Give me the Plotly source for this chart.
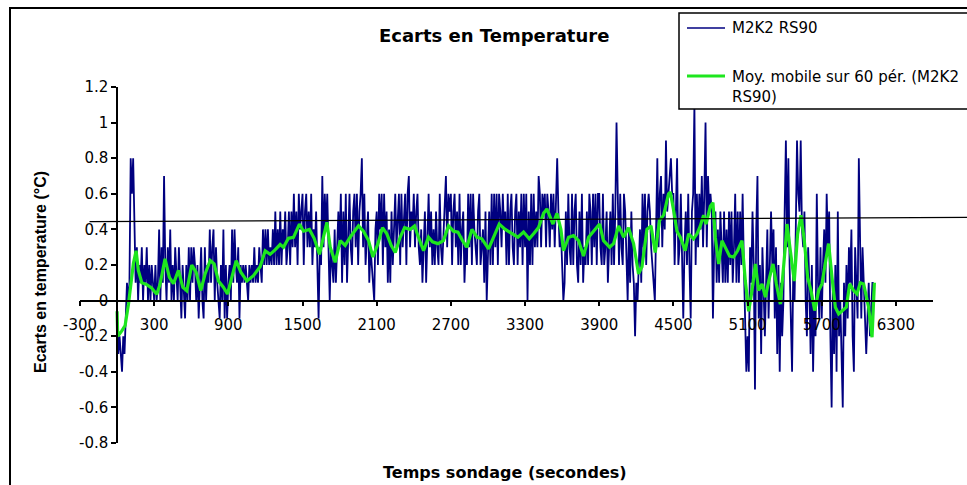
import plotly.graph_objects as go

# ---------------- data ----------------
sample_step_s = 10  # seconds between raw samples of the M2K2 RS90 series

# Raw temperature differences (°C), one value every 10 s from t = 0
temp_ecart = [
    # 0 - 290
    -0.1, -0.3, -0.2, -0.3, -0.4, -0.2, -0.3, -0.1, 0.1, 0.0,
    0.1, 0.8, 0.6, 0.8, 0.4, 0.1, 0.3, 0.0, 0.2, 0.1,
    0.3, 0.0, 0.2, 0.1, 0.3, 0.0, 0.2, 0.0, 0.2, 0.1,
    # 300 - 590
    0.0, 0.2, 0.0, 0.1, 0.4, 0.0, 0.3, 0.1, 0.7, 0.2,
    0.0, 0.3, 0.1, 0.4, 0.0, 0.2, 0.0, 0.3, 0.1, 0.0,
    0.3, 0.1, -0.1, 0.2, 0.0, -0.1, 0.2, 0.0, 0.3, 0.0,
    # 600 - 890
    0.3, 0.1, 0.3, 0.2, 0.0, 0.2, -0.1, 0.1, 0.3, 0.0,
    -0.1, 0.3, 0.0, 0.2, 0.1, 0.4, 0.1, 0.3, 0.4, 0.0,
    0.3, 0.1, 0.0, -0.1, 0.2, 0.0, 0.4, -0.1, 0.2, -0.1,
    # 900 - 1190
    0.1, 0.2, 0.0, 0.4, 0.1, 0.4, 0.2, 0.1, 0.3, -0.1,
    0.2, 0.1, 0.2, 0.1, 0.2, 0.1, 0.0, 0.2, 0.1, 0.2,
    0.1, 0.3, 0.1, 0.2, 0.1, 0.3, 0.2, 0.1, 0.4, 0.2,
    # 1200 - 1490
    0.4, 0.2, 0.4, 0.2, 0.3, 0.2, 0.4, 0.2, 0.5, 0.2,
    0.4, 0.2, 0.5, 0.2, 0.4, 0.3, 0.5, 0.2, 0.3, 0.5,
    0.2, 0.5, 0.3, 0.6, 0.3, 0.5, 0.2, 0.6, 0.4, 0.5,
    # 1500 - 1790
    0.6, 0.2, 0.5, 0.6, 0.3, 0.5, 0.3, 0.6, 0.2, 0.4,
    0.3, 0.5, 0.2, -0.1, 0.3, 0.2, 0.7, 0.3, 0.6, 0.4,
    0.6, 0.3, 0.0, 0.3, 0.2, 0.1, 0.4, 0.1, 0.3, 0.5,
    # 1800 - 2090
    0.3, 0.6, 0.1, 0.5, 0.2, 0.6, 0.1, 0.4, 0.6, 0.3,
    0.2, 0.5, 0.6, 0.3, 0.6, 0.2, 0.5, 0.6, 0.8, 0.3,
    0.6, 0.2, 0.4, 0.5, 0.1, 0.3, 0.2, 0.1, 0.0, 0.4,
    # 2100 - 2390
    0.5, 0.2, 0.6, 0.4, 0.6, 0.2, 0.6, 0.3, 0.5, 0.1,
    0.4, 0.1, 0.5, 0.2, 0.4, 0.6, 0.3, 0.5, 0.6, 0.2,
    0.6, 0.3, 0.5, 0.6, 0.2, 0.6, 0.7, 0.3, 0.5, 0.4,
    # 2400 - 2690
    0.6, 0.3, 0.5, 0.6, 0.3, 0.2, 0.4, 0.1, 0.3, 0.5,
    0.1, 0.4, 0.6, 0.3, 0.5, 0.2, 0.4, 0.2, 0.5, 0.3,
    0.2, 0.6, 0.3, 0.2, 0.4, 0.5, 0.7, 0.3, 0.6, 0.5,
    # 2700 - 2990
    0.6, 0.2, 0.5, 0.6, 0.3, 0.5, 0.2, 0.6, 0.2, 0.4,
    0.5, 0.1, 0.3, 0.2, 0.6, 0.3, 0.6, 0.2, 0.6, 0.4,
    0.3, 0.2, 0.5, 0.6, 0.2, 0.3, 0.4, 0.1, 0.5, 0.0,
    # 3000 - 3290
    0.3, 0.5, 0.2, 0.6, 0.2, 0.6, 0.3, 0.6, 0.2, 0.6,
    0.5, 0.3, 0.6, 0.4, 0.5, 0.2, 0.6, 0.2, 0.5, 0.6,
    0.3, 0.2, 0.5, 0.6, 0.2, 0.5, 0.3, 0.6, 0.2, 0.6,
    # 3300 - 3590
    0.3, 0.6, 0.0, 0.5, 0.2, 0.6, 0.2, 0.6, 0.3, 0.5,
    0.3, 0.7, 0.6, 0.3, 0.6, 0.5, 0.6, 0.3, 0.6, 0.5,
    0.3, 0.6, 0.4, 0.6, 0.3, 0.6, 0.8, 0.5, 0.3, 0.4,
    # 3600 - 3890
    0.2, 0.0, 0.1, 0.5, 0.2, 0.6, 0.3, 0.2, 0.6, 0.2,
    0.5, 0.6, 0.2, 0.1, 0.5, 0.2, 0.6, 0.1, 0.3, 0.2,
    0.5, 0.2, 0.6, 0.5, 0.2, 0.6, 0.3, 0.6, 0.2, 0.6,
    # 3900 - 4190
    0.6, 0.3, 0.2, 0.6, 0.2, 0.3, 0.5, 0.1, 0.3, 0.5,
    0.2, 0.6, 0.2, 0.5, 1.0, 0.6, 0.2, 0.6, 0.3, 0.2,
    0.6, 0.5, 0.2, 0.0, 0.4, 0.1, 0.5, 0.2, 0.1, -0.2,
    # 4200 - 4490
    0.1, 0.0, 0.2, 0.4, 0.1, 0.6, 0.3, 0.6, 0.2, 0.5,
    0.6, 0.5, 0.3, 0.2, 0.1, 0.0, 0.4, 0.8, 0.3, 0.6,
    0.7, 0.3, 0.6, 0.4, 0.9, 0.5, 0.6, 0.7, 0.8, 0.6,
    # 4500 - 4790
    0.6, 0.2, 0.5, 0.8, 0.2, 0.3, 0.6, 0.2, -0.1, 0.3,
    0.5, 0.2, 0.6, 0.2, -0.1, 0.5, 0.6, 1.1, 0.2, 0.6,
    0.3, 0.6, 0.4, 0.7, 0.3, 0.6, 1.0, 0.3, 0.7, 0.5,
    # 4800 - 5090
    0.6, 0.5, -0.1, 0.3, 0.5, 0.1, 0.4, 0.1, 0.5, 0.3,
    0.1, 0.5, 0.1, 0.4, 0.1, 0.5, 0.2, 0.5, 0.1, 0.3,
    0.6, 0.1, 0.5, 0.1, 0.5, 0.2, 0.6, 0.2, -0.1, -0.4,
    # 5100 - 5390
    -0.2, -0.4, 0.3, 0.1, 0.5, 0.2, -0.5, 0.4, 0.7, -0.1,
    0.2, -0.3, 0.3, 0.0, -0.2, 0.1, 0.4, -0.1, 0.3, 0.5,
    0.2, 0.4, -0.1, 0.3, -0.3, 0.2, -0.4, 0.1, -0.2, 0.0,
    # 5400 - 5690
    0.5, 0.9, 0.3, 0.8, 0.2, -0.1, -0.4, 0.2, 0.0, 0.4,
    0.9, 0.6, 0.5, 0.9, 0.4, 0.3, 0.5, 0.0, -0.2, 0.3,
    0.1, -0.3, 0.2, -0.4, 0.0, -0.2, 0.6, 0.1, -0.1, 0.3,
    # 5700 - 5990
    -0.1, 0.2, 0.4, 0.1, 0.6, 0.3, 0.5, -0.2, -0.6, 0.1,
    -0.3, 0.2, -0.4, 0.5, -0.2, 0.0, -0.3, -0.6, 0.1, -0.2,
    0.2, -0.1, 0.3, 0.1, 0.4, -0.2, -0.4, 0.3, 0.1, -0.1,
    # 6000 - 6120
    0.8, 0.2, -0.1, 0.3, 0.1, 0.0, -0.3, -0.1, 0.1, -0.2, 0.0, 0.1, 0.1,
]
temps_s = [sample_step_s * i for i in range(len(temp_ecart))]

# Moving average over 60 periods
moy_t = [0, 5, 38, 65, 92, 111, 132, 154, 172, 200, 240, 281, 321, 347, 388,
         423, 456, 496, 532, 564, 604, 639, 677, 712, 753, 785, 820, 860, 893,
         928, 963, 1001, 1050, 1103, 1157, 1198, 1238, 1278, 1319, 1346, 1386,
         1427, 1475, 1508, 1556, 1594, 1637, 1669, 1697, 1724, 1764, 1805, 1845,
         1885, 1953, 1993, 2034, 2069, 2110, 2147, 2182, 2217, 2250, 2290, 2325,
         2371, 2406, 2438, 2479, 2519, 2551, 2595, 2640, 2681, 2721, 2757, 2794,
         2830, 2870, 2911, 2951, 3005, 3045, 3091, 3140, 3194, 3242, 3288, 3334,
         3369, 3409, 3450, 3477, 3526, 3558, 3590, 3611, 3652, 3692, 3733, 3773,
         3814, 3854, 3903, 3935, 3984, 4016, 4057, 4097, 4137, 4178, 4218, 4246,
         4286, 4319, 4353, 4388, 4421, 4461, 4475, 4502, 4529, 4556, 4596, 4623,
         4663, 4691, 4718, 4744, 4764, 4799, 4820, 4839, 4866, 4893, 4920, 4955,
         4987, 5019, 5055, 5082, 5109, 5136, 5163, 5190, 5217, 5244, 5278, 5306,
         5333, 5365, 5405, 5419, 5446, 5478, 5505, 5532, 5559, 5586, 5613, 5643,
         5675, 5702, 5737, 5756, 5783, 5810, 5837, 5864, 5899, 5926, 5958, 5985,
         6012, 6039, 6079, 6107, 6126]
moy_v = [-0.06, -0.2, -0.17, -0.14, -0.02, 0.09, 0.21, 0.28, 0.17, 0.10, 0.09,
         0.07, 0.035, 0.09, 0.235, 0.13, 0.095, 0.17, 0.075, 0.056, 0.20, 0.16,
         0.056, 0.15, 0.225, 0.206, 0.11, 0.075, 0.037, 0.13, 0.225, 0.16, 0.11,
         0.14, 0.19, 0.28, 0.26, 0.285, 0.315, 0.30, 0.35, 0.355, 0.43, 0.39,
         0.40, 0.35, 0.26, 0.355, 0.44, 0.30, 0.215, 0.337, 0.31, 0.356, 0.42,
         0.39, 0.337, 0.245, 0.32, 0.41, 0.375, 0.31, 0.27, 0.356, 0.41, 0.40,
         0.42, 0.356, 0.28, 0.356, 0.33, 0.32, 0.337, 0.42, 0.39, 0.385, 0.337,
         0.30, 0.40, 0.356, 0.347, 0.29, 0.356, 0.43, 0.40, 0.375, 0.356, 0.385,
         0.347, 0.375, 0.41, 0.49, 0.515, 0.43, 0.49, 0.40, 0.28, 0.356, 0.365,
         0.337, 0.25, 0.356, 0.39, 0.43, 0.337, 0.30, 0.32, 0.42, 0.356, 0.41,
         0.32, 0.15, 0.19, 0.40, 0.42, 0.27, 0.45, 0.48, 0.60, 0.61, 0.506, 0.39,
         0.356, 0.28, 0.375, 0.347, 0.375, 0.42, 0.48, 0.43, 0.53, 0.55, 0.356,
         0.206, 0.337, 0.30, 0.25, 0.245, 0.28, 0.337, 0.11, -0.06, 0.056, 0.206,
         0.056, 0.094, 0.019, 0.13, 0.206, 0.094, -0.02, 0.30, 0.43, 0.28, 0.11,
         0.375, 0.48, 0.337, 0.13, 0.056, -0.056, 0.056, 0.094, 0.245, 0.32, 0.13,
         -0.037, -0.075, -0.056, -0.037, 0.094, 0.056, 0.037, 0.10, 0.094, -0.037,
         -0.206, 0.10]

x_tickvals = [-300, 300, 900, 1500, 2100, 2700, 3300, 3900, 4500, 5100, 5700, 6300]
x_ticktext = ["-300", "300", "900", "1500", "2100", "2700", "3300", "3900",
              "4500", "5100", "5700", "6300"]
y_tickvals = [-0.8, -0.6, -0.4, -0.2, 0, 0.2, 0.4, 0.6, 0.8, 1, 1.2]
y_ticktext = ["-0.8", "-0.6", "-0.4", "-0.2", "0", "0.2", "0.4", "0.6", "0.8", "1", "1.2"]
x_range = [-300, 6600]
y_range = [-0.8, 1.2]

series_name = "M2K2 RS90"
ma_name = "Moy. mobile sur 60 pér. (M2K2<br>RS90)"
title_text = "Ecarts en Temperature"
x_title = "Temps sondage (secondes)"
y_title = "Ecarts en temperature (°C)"

# ---------------- figure ----------------
W, H = 967, 485
ML, MR, MT, MB = 80, 34, 87, 42
PW, PH = W - ML - MR, H - MT - MB


def px(xpix):
    return (xpix - ML) / PW


def py(ypix):
    return (H - MB - ypix) / PH


blue = "#000080"
green = "#1ee61e"

fig = go.Figure()
fig.add_trace(go.Scatter(x=temps_s, y=temp_ecart, mode="lines", name=series_name,
                         line=dict(color=blue, width=1.8), showlegend=False))
fig.add_trace(go.Scatter(x=moy_t, y=moy_v, mode="lines", name=ma_name,
                         line=dict(color=green, width=3.2), showlegend=False))

tick_font = dict(family="DejaVu Sans", size=15, color="black")

fig.update_layout(
    width=W, height=H,
    margin=dict(l=ML, r=MR, t=MT, b=MB),
    paper_bgcolor="white", plot_bgcolor="white",
    showlegend=False,
    xaxis=dict(range=x_range, tickmode="array", tickvals=x_tickvals, ticktext=x_ticktext,
               showgrid=False, zeroline=False, showline=True, linecolor="black",
               linewidth=1.5, ticks="outside", ticklen=5, tickwidth=1.5, tickcolor="black",
               anchor="free", position=(0 - y_range[0]) / (y_range[1] - y_range[0]),
               tickfont=tick_font, ticklabelstandoff=6, automargin=False),
    yaxis=dict(range=y_range, tickmode="array", tickvals=y_tickvals, ticktext=y_ticktext,
               showgrid=False, zeroline=False, showline=True, linecolor="black",
               linewidth=1.5, ticks="outside", ticklen=5, tickwidth=1.5, tickcolor="black",
               anchor="free", position=(0 - x_range[0]) / (x_range[1] - x_range[0]),
               tickfont=tick_font, automargin=False),
)

shapes = [
    # chart-area border
    dict(type="rect", xref="paper", yref="paper", x0=px(10), x1=px(1100),
         y0=py(600), y1=py(8), line=dict(color="black", width=2), layer="above"),
    # drawn reference line
    dict(type="line", xref="paper", yref="paper", x0=px(89.5), y0=py(221.7),
         x1=px(967), y1=py(217.3), line=dict(color="black", width=1.3), layer="above"),
    # legend box
    dict(type="rect", xref="paper", yref="paper", x0=px(679), x1=px(1100),
         y0=py(109), y1=py(13), line=dict(color="black", width=1.5),
         fillcolor="white", layer="above"),
    dict(type="line", xref="paper", yref="paper", x0=px(687), x1=px(725),
         y0=py(28), y1=py(28), line=dict(color=blue, width=1.5), layer="above"),
    dict(type="line", xref="paper", yref="paper", x0=px(687), x1=px(725),
         y0=py(76), y1=py(76), line=dict(color=green, width=3), layer="above"),
]
fig.update_layout(shapes=shapes)

annotations = [
    dict(text=title_text, xref="paper", yref="paper", x=px(494), y=py(36),
         xanchor="center", yanchor="middle", showarrow=False,
         font=dict(family="DejaVu Sans", size=18, color="black", weight="bold")),
    dict(text=x_title, xref="paper", yref="paper", x=px(505), y=py(472),
         xanchor="center", yanchor="middle", showarrow=False,
         font=dict(family="DejaVu Sans", size=16, color="black", weight="bold")),
    dict(text=y_title, xref="paper", yref="paper", x=px(40), y=py(272),
         xanchor="center", yanchor="middle", showarrow=False, textangle=-90,
         font=dict(family="Liberation Sans", size=16, color="black", weight="bold")),
    dict(text=series_name, xref="paper", yref="paper", x=px(730), y=py(28),
         xanchor="left", yanchor="middle", showarrow=False,
         font=dict(family="DejaVu Sans", size=15, color="black")),
    dict(text=ma_name, xref="paper", yref="paper", x=px(730), y=py(86.5),
         xanchor="left", yanchor="middle", showarrow=False, align="left",
         font=dict(family="DejaVu Sans", size=15, color="black")),
]
fig.update_layout(annotations=annotations)

fig.write_html("out.html", config={"displayModeBar": False},
               post_script="document.body.style.margin='0';document.body.style.overflow='hidden';")
